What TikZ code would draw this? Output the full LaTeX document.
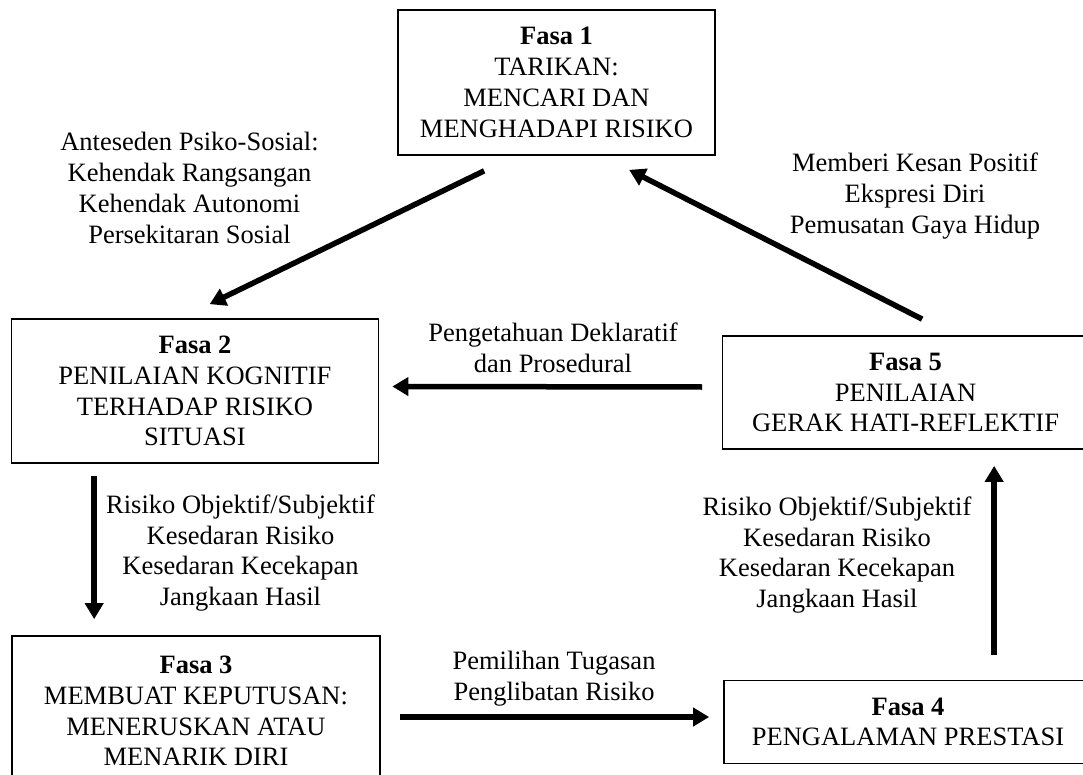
\documentclass[tikz,border=0pt]{standalone}
\usepackage{fontspec}
\setmainfont{Liberation Serif}
\usetikzlibrary{arrows.meta,calc}
\tikzset{
  txt/.style={font=\fontsize{26.5}{30.8}\selectfont, align=center, inner sep=0pt},
  phase/.style={txt, draw, line width=1.7pt, fill=white},
  arr/.style={line width=5.5pt, -{Triangle[length=16pt,width=18pt]}},
}
\begin{document}
\begin{tikzpicture}[x=1pt,y=-1pt]
\useasboundingbox (0,0) rectangle (1083,775);
\clip (0,0) rectangle (1083,775);
\fill[white] (0,0) rectangle (1083,775);
% phase boxes
\node[phase, minimum width=317pt, minimum height=145pt] (f1) at (556.5,82.5)
  {\textbf{Fasa 1}\\TARIKAN:\\MENCARI DAN\\MENGHADAPI RISIKO};
\node[phase, minimum width=367pt, minimum height=144pt] (f2) at (195,391)
  {\textbf{Fasa 2}\\PENILAIAN KOGNITIF\\TERHADAP RISIKO\\SITUASI};
\node[phase, minimum width=368pt, minimum height=150pt] (f3) at (196,711)
  {\textbf{Fasa 3}\\MEMBUAT KEPUTUSAN:\\MENERUSKAN ATAU\\MENARIK DIRI};
\node[phase, minimum width=368pt, minimum height=83pt] (f4) at (908,722)
  {\textbf{Fasa 4}\\PENGALAMAN PRESTASI};
\node[phase, minimum width=366pt, minimum height=113pt] (f5) at (905.5,392.5)
  {\textbf{Fasa 5}\\PENILAIAN\\GERAK HATI-REFLEKTIF};
% labels
\node[txt] (lA) at (189.5,188) {Anteseden Psiko-Sosial:\\Kehendak Rangsangan\\Kehendak Autonomi\\Persekitaran Sosial};
\node[txt] (lB) at (915,196) {Memberi Kesan Positif\\Ekspresi Diri\\Pemusatan Gaya Hidup};
\node[txt] (lC) at (553,348) {Pengetahuan Deklaratif\\dan Prosedural};
\node[txt] (lD) at (240.5,553) {Risiko Objektif/Subjektif\\Kesedaran Risiko\\Kesedaran Kecekapan\\Jangkaan Hasil};
\node[txt] (lE) at (837,555) {Risiko Objektif/Subjektif\\Kesedaran Risiko\\Kesedaran Kecekapan\\Jangkaan Hasil};
\node[txt] (lF) at (554,679) {Pemilihan Tugasan\\Penglibatan Risiko};
% arrows
\draw[arr] ($(f1.south west)+(87,15)$) -- ($(f2.north west)+(199,-14)$);
\draw[arr] ($(f5.north west)+(200.5,-16)$) -- ($(f1.south west)+(232,14)$);
\draw[arr] ($(f5.west)+(-19.5,-5.5)$) -- ($(f2.east)+(13,-4.5)$);
\draw[arr] ($(f2.south west)+(83.5,12.5)$) -- ($(f3.north west)+(83,-16)$);
\draw[arr] ($(f3.east)+(19,6)$) -- ($(f4.west)+(-14,-5)$);
\draw[arr] ($(f4.north west)+(271,-25)$) -- ($(f5.south west)+(272.5,16)$);
\end{tikzpicture}
\end{document}
